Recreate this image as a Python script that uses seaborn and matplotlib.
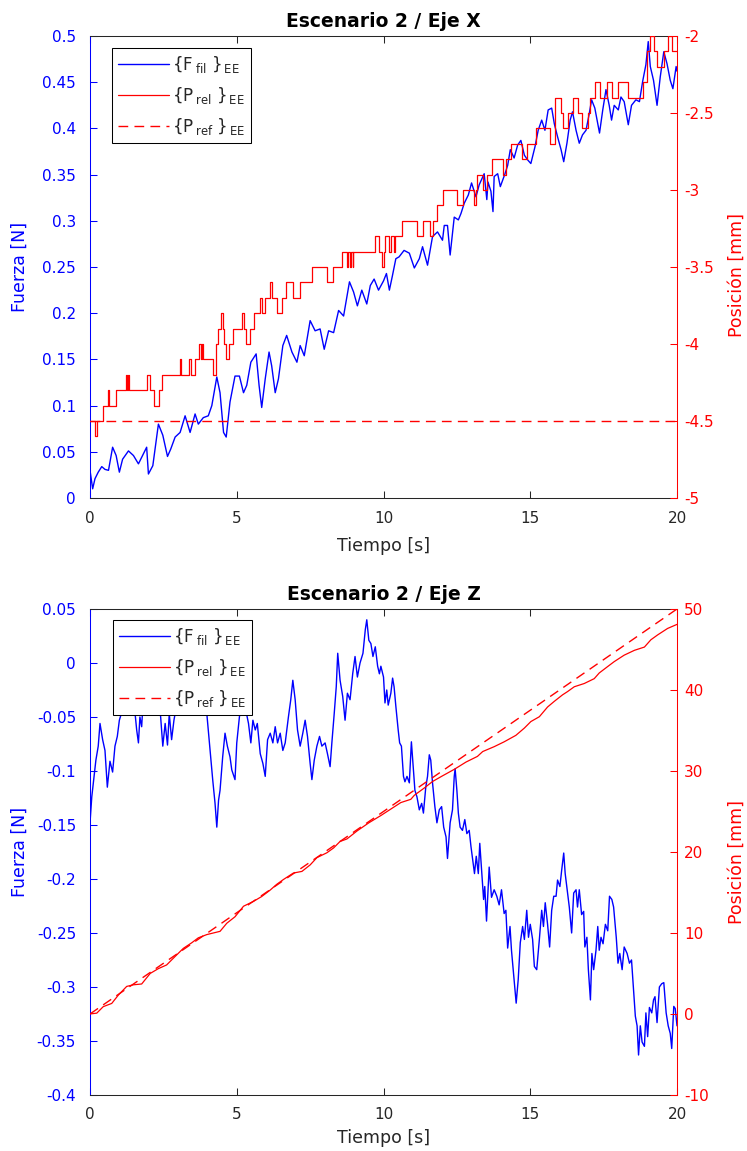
import numpy as np
import pandas as pd
import matplotlib
matplotlib.use("Agg")
import matplotlib.pyplot as plt
import seaborn as sns

# ---------------- Escenario 2 / Eje X ----------------
# Filtered end-effector force (N)
fx_t = [0.0, 0.09, 0.17, 0.28, 0.40, 0.51, 0.63, 0.77, 0.89, 1.00, 1.11, 1.31, 1.48, 1.65, 1.82,
        1.93, 1.99, 2.14, 2.33, 2.48, 2.64, 2.75, 2.90, 3.07, 3.24, 3.41, 3.58, 3.69, 3.86, 4.03,
        4.15, 4.32, 4.43, 4.55, 4.64, 4.77, 4.94, 5.09, 5.23, 5.34, 5.48, 5.66, 5.76, 5.85, 5.97,
        6.10, 6.19, 6.31, 6.42, 6.57, 6.70, 6.88, 7.05, 7.16, 7.30, 7.50, 7.67, 7.84, 7.98, 8.13,
        8.30, 8.47, 8.64, 8.75, 8.84, 8.98, 9.11, 9.26, 9.43, 9.55, 9.68, 9.83, 10.0, 10.1, 10.2,
        10.3, 10.42, 10.53, 10.70, 10.88, 11.05, 11.22, 11.33, 11.50, 11.67, 11.84, 12.01, 12.07,
        12.18, 12.27, 12.41, 12.55, 12.64, 12.75, 12.89, 13.00, 13.15, 13.26, 13.43, 13.52, 13.56,
        13.66, 13.73, 13.77, 13.89, 13.98, 14.14, 14.23, 14.32, 14.45, 14.57, 14.68, 14.80, 14.91,
        15.02, 15.16, 15.27, 15.39, 15.50, 15.61, 15.73, 15.82, 15.93, 16.05, 16.14, 16.25, 16.36,
        16.44, 16.56, 16.67, 16.78, 16.90, 17.01, 17.09, 17.20, 17.30, 17.36, 17.47, 17.58, 17.69,
        17.77, 17.86, 18.00, 18.09, 18.20, 18.34, 18.45, 18.60, 18.72, 18.83, 18.94, 19.02, 19.09,
        19.20, 19.32, 19.43, 19.55, 19.66, 19.77, 19.86, 19.97, 20.0]
fx_v = [0.030, 0.010, 0.021, 0.028, 0.034, 0.031, 0.030, 0.055, 0.046, 0.028, 0.042, 0.051, 0.046,
        0.037, 0.048, 0.055, 0.026, 0.035, 0.080, 0.068, 0.045, 0.053, 0.066, 0.071, 0.089, 0.071,
        0.091, 0.080, 0.087, 0.089, 0.100, 0.131, 0.114, 0.071, 0.066, 0.104, 0.132, 0.132, 0.114,
        0.122, 0.147, 0.156, 0.122, 0.098, 0.129, 0.158, 0.143, 0.114, 0.129, 0.165, 0.176, 0.158,
        0.147, 0.165, 0.154, 0.192, 0.181, 0.183, 0.161, 0.181, 0.179, 0.203, 0.197, 0.217, 0.234,
        0.223, 0.208, 0.225, 0.210, 0.230, 0.237, 0.225, 0.235, 0.243, 0.225, 0.240, 0.259, 0.261,
        0.268, 0.265, 0.249, 0.259, 0.272, 0.252, 0.283, 0.288, 0.279, 0.295, 0.295, 0.263, 0.304,
        0.301, 0.308, 0.319, 0.328, 0.341, 0.326, 0.339, 0.351, 0.323, 0.342, 0.332, 0.310, 0.348,
        0.351, 0.337, 0.351, 0.360, 0.377, 0.368, 0.382, 0.387, 0.371, 0.366, 0.362, 0.380, 0.398,
        0.409, 0.398, 0.420, 0.422, 0.405, 0.391, 0.377, 0.364, 0.384, 0.409, 0.418, 0.398, 0.384,
        0.393, 0.398, 0.416, 0.431, 0.422, 0.405, 0.395, 0.420, 0.442, 0.425, 0.409, 0.425, 0.420,
        0.434, 0.429, 0.404, 0.425, 0.431, 0.429, 0.451, 0.469, 0.494, 0.467, 0.452, 0.425, 0.456,
        0.483, 0.470, 0.452, 0.443, 0.467, 0.462]

# Measured position (mm), quantised staircase: step start times and levels
px_t = [0.0, 0.17, 0.25, 0.43, 0.60, 0.66, 0.875, 1.22, 1.26, 1.29, 1.34, 1.93, 2.05, 2.18, 2.36,
        2.45, 3.05, 3.11, 3.36, 3.43, 3.59, 3.73, 3.77, 3.80, 3.86, 4.18, 4.28, 4.35, 4.45, 4.52,
        4.57, 4.62, 4.72, 4.86, 5.19, 5.23, 5.30, 5.45, 5.60, 5.80, 5.85, 5.97, 6.14, 6.20, 6.36,
        6.53, 6.68, 6.93, 7.16, 7.56, 8.06, 8.27, 8.58, 8.76, 8.80, 8.85, 8.90, 8.95, 8.97, 9.71,
        9.86, 9.94, 10.0, 10.05, 10.2, 10.25, 10.35, 10.4, 10.62, 11.13, 11.33, 11.58, 11.67,
        11.81, 12.02, 12.49, 12.72, 13.08, 13.15, 13.17, 13.38, 13.51, 13.71, 14.07, 14.16, 14.36,
        14.71, 14.88, 15.2, 15.67, 15.84, 16.05, 16.12, 16.3, 16.45, 16.64, 16.75, 16.98, 17.04,
        17.19, 17.36, 17.63, 17.77, 18.0, 18.34, 18.85, 18.97, 19.08, 19.2, 19.31, 19.54, 19.71,
        19.83, 20.0]
px_v = [-4.5, -4.6, -4.5, -4.4, -4.3, -4.4, -4.3, -4.2, -4.3, -4.2, -4.3, -4.2, -4.3, -4.4, -4.3,
        -4.2, -4.1, -4.2, -4.1, -4.2, -4.1, -4.0, -4.1, -4.0, -4.1, -4.2, -4.0, -3.9, -3.8, -3.9,
        -4.0, -4.1, -4.0, -3.9, -3.8, -3.9, -4.0, -3.9, -3.8, -3.7, -3.8, -3.7, -3.6, -3.7, -3.8,
        -3.7, -3.6, -3.7, -3.6, -3.5, -3.6, -3.5, -3.4, -3.5, -3.4, -3.5, -3.4, -3.5, -3.4, -3.3,
        -3.4, -3.5, -3.4, -3.3, -3.4, -3.3, -3.4, -3.3, -3.2, -3.3, -3.2, -3.3, -3.2,
        -3.1, -3.0, -3.1, -3.0, -3.1, -3.0, -2.9, -3.0, -2.9, -2.8, -2.9, -2.8, -2.7,
        -2.8, -2.7, -2.6, -2.7, -2.4, -2.5, -2.6, -2.5, -2.4, -2.5, -2.6, -2.5, -2.4,
        -2.3, -2.4, -2.3, -2.4, -2.3, -2.4, -2.3, -2.1, -2.0, -2.1, -2.2, -2.1, -2.0,
        -2.1, -2.1]

# Reference position (mm)
rx_t = [0.0, 20.0]
rx_v = [-4.5, -4.5]

# ---------------- Escenario 2 / Eje Z ----------------
fz_t = [0.0, 0.06, 0.14, 0.20, 0.28, 0.34, 0.43, 0.51, 0.59, 0.68, 0.77, 0.85, 0.93, 1.00, 1.14,
        1.25, 1.42, 1.50, 1.59, 1.65, 1.70, 1.76, 1.82, 2.05, 2.39, 2.48, 2.56, 2.64, 2.70, 2.78,
        2.86, 2.95, 3.07, 3.24, 3.41, 3.75, 3.98, 4.09, 4.18, 4.26, 4.32, 4.38, 4.43, 4.52, 4.60,
        4.68, 4.77, 4.83, 4.94, 5.00, 5.09, 5.17, 5.28, 5.40, 5.48, 5.55, 5.63, 5.70, 5.80, 5.89,
        5.97, 6.05, 6.14, 6.23, 6.31, 6.39, 6.48, 6.57, 6.65, 6.76, 6.84, 6.91, 6.99, 7.07, 7.16,
        7.25, 7.33, 7.41, 7.50, 7.56, 7.64, 7.73, 7.82, 7.90, 8.01, 8.09, 8.18, 8.24, 8.32, 8.39,
        8.44, 8.52, 8.61, 8.69, 8.77, 8.86, 8.95, 9.03, 9.11, 9.20, 9.30, 9.38, 9.43, 9.50, 9.57,
        9.64, 9.72, 9.80, 9.86, 9.91, 10.00, 10.05, 10.11, 10.16, 10.25, 10.31, 10.36, 10.42,
        10.50, 10.55, 10.61, 10.68, 10.73, 10.80, 10.88, 10.95, 11.02, 11.07, 11.14, 11.22, 11.30,
        11.36, 11.44, 11.50, 11.56, 11.61, 11.67, 11.75, 11.82, 11.90, 11.98, 12.05, 12.13, 12.18,
        12.27, 12.35, 12.41, 12.44, 12.50, 12.55, 12.61, 12.69, 12.77, 12.84, 12.92, 12.98, 13.10,
        13.16, 13.23, 13.28, 13.35, 13.41, 13.45, 13.51, 13.60, 13.68, 13.77, 13.86, 13.94, 14.02,
        14.11, 14.17, 14.23, 14.31, 14.36, 14.43, 14.52, 14.59, 14.66, 14.74, 14.80, 14.88, 14.94,
        15.00, 15.08, 15.14, 15.22, 15.31, 15.39, 15.45, 15.51, 15.59, 15.66, 15.73, 15.80, 15.88,
        15.93, 16.01, 16.07, 16.14, 16.19, 16.27, 16.33, 16.41, 16.48, 16.56, 16.61, 16.67, 16.75,
        16.82, 16.86, 16.93, 16.98, 17.05, 17.10, 17.16, 17.24, 17.30, 17.35, 17.41, 17.48, 17.56,
        17.64, 17.70, 17.78, 17.84, 17.93, 17.99, 18.05, 18.13, 18.20, 18.30, 18.38, 18.45, 18.52,
        18.58, 18.64, 18.69, 18.75, 18.81, 18.89, 18.94, 19.00, 19.06, 19.14, 19.20, 19.25, 19.32,
        19.40, 19.48, 19.55, 19.63, 19.70, 19.77, 19.82, 19.89, 19.94, 20.00]
fz_v = [-0.148, -0.124, -0.105, -0.090, -0.077, -0.056, -0.071, -0.081, -0.115, -0.091, -0.101,
        -0.077, -0.068, -0.053, -0.040, -0.030, -0.047, -0.037, -0.062, -0.074, -0.050, -0.059,
        -0.030, -0.020, -0.044, -0.077, -0.056, -0.076, -0.047, -0.071, -0.053, -0.039, -0.025,
        -0.045, -0.030, -0.020, -0.047, -0.081, -0.108, -0.130, -0.152, -0.127, -0.118, -0.087,
        -0.065, -0.077, -0.087, -0.099, -0.108, -0.074, -0.050, -0.035, -0.040, -0.056, -0.074,
        -0.053, -0.062, -0.056, -0.084, -0.093, -0.105, -0.071, -0.065, -0.074, -0.059, -0.074,
        -0.065, -0.081, -0.074, -0.050, -0.034, -0.016, -0.034, -0.062, -0.077, -0.065, -0.053,
        -0.068, -0.093, -0.108, -0.090, -0.077, -0.068, -0.077, -0.074, -0.084, -0.096, -0.074,
        -0.047, -0.022, 0.009, -0.016, -0.031, -0.053, -0.028, -0.034, -0.010, 0.006, -0.013,
        0.000, 0.009, 0.031, 0.040, 0.021, 0.018, 0.006, 0.015, -0.003, -0.010, -0.003, -0.013,
        -0.037, -0.025, -0.039, -0.028, -0.014, -0.022, -0.040, -0.062, -0.074, -0.077, -0.105,
        -0.110, -0.105, -0.111, -0.073, -0.099, -0.118, -0.124, -0.136, -0.130, -0.139, -0.115,
        -0.105, -0.085, -0.090, -0.111, -0.133, -0.148, -0.136, -0.133, -0.152, -0.161, -0.181,
        -0.148, -0.136, -0.105, -0.098, -0.118, -0.139, -0.152, -0.155, -0.145, -0.158, -0.155,
        -0.170, -0.195, -0.179, -0.195, -0.167, -0.195, -0.219, -0.207, -0.239, -0.189, -0.217,
        -0.210, -0.216, -0.224, -0.210, -0.232, -0.229, -0.264, -0.244, -0.266, -0.287, -0.315,
        -0.293, -0.259, -0.244, -0.256, -0.229, -0.254, -0.242, -0.256, -0.281, -0.284, -0.256,
        -0.229, -0.244, -0.222, -0.242, -0.263, -0.229, -0.216, -0.216, -0.201, -0.207, -0.192,
        -0.176, -0.195, -0.213, -0.226, -0.250, -0.213, -0.210, -0.226, -0.210, -0.233, -0.230,
        -0.263, -0.254, -0.284, -0.312, -0.269, -0.284, -0.266, -0.244, -0.266, -0.254, -0.260,
        -0.242, -0.248, -0.216, -0.219, -0.226, -0.254, -0.278, -0.269, -0.284, -0.263, -0.269,
        -0.278, -0.275, -0.303, -0.327, -0.336, -0.363, -0.336, -0.351, -0.355, -0.324, -0.346,
        -0.319, -0.324, -0.312, -0.309, -0.333, -0.300, -0.297, -0.296, -0.324, -0.336, -0.343,
        -0.357, -0.318, -0.320, -0.336]

pz_t = [0.0, 0.23, 0.45, 0.74, 0.97, 1.25, 1.48, 1.76, 2.05, 2.33, 2.61, 2.90, 3.18, 3.47, 3.69,
        3.98, 4.43, 4.66, 4.94, 5.23, 5.57, 5.85, 6.14, 6.36, 6.59, 6.93, 7.22, 7.50, 7.73, 8.07,
        8.30, 8.52, 8.75, 9.10, 9.50, 9.91, 10.25, 10.59, 10.93, 11.05, 11.39, 11.67, 12.01, 12.41,
        12.81, 13.20, 13.38, 13.77, 14.11, 14.51, 14.80, 15.02, 15.31, 15.59, 15.82, 16.10, 16.27,
        16.50, 16.84, 17.18, 17.35, 17.64, 17.86, 18.20, 18.55, 18.89, 19.11, 19.34, 19.68, 20.0]
pz_v = [0.0, 0.1, 0.9, 1.3, 2.35, 3.4, 3.6, 3.7, 5.0, 5.6, 6.05, 7.1, 8.1, 8.8, 9.4, 9.8, 10.2,
        11.2, 12.0, 13.3, 13.9, 14.5, 15.3, 16.0, 16.6, 17.4, 17.6, 18.4, 19.3, 19.9, 20.5, 21.3,
        21.6, 22.6, 23.6, 24.5, 25.3, 26.1, 26.5, 27.0, 27.9, 28.7, 29.4, 30.2, 31.1, 31.8, 32.4,
        33.0, 33.6, 34.4, 35.3, 36.1, 36.7, 37.9, 38.6, 39.4, 39.8, 40.4, 40.8, 41.4, 42.1, 42.9,
        43.5, 44.3, 44.9, 45.3, 46.2, 46.8, 47.6, 48.1]

rz_t = [0.0, 20.0]
rz_v = [0.0, 50.0]

# Axis ticks
time_ticks = [0, 5, 10, 15, 20]
fx_ticks = [0, 0.05, 0.1, 0.15, 0.2, 0.25, 0.3, 0.35, 0.4, 0.45, 0.5]
px_ticks = [-5, -4.5, -4, -3.5, -3, -2.5, -2]
fz_ticks = [-0.4, -0.35, -0.3, -0.25, -0.2, -0.15, -0.1, -0.05, 0, 0.05]
pz_ticks = [-10, 0, 10, 20, 30, 40, 50]

labels = [r"$\mathregular{\{F_{\;fil}\;\}_{\,EE}}$",
          r"$\mathregular{\{P_{\;rel}\;\}_{\,EE}}$",
          r"$\mathregular{\{P_{\;ref}\;\}_{\,EE}}$"]

sns.set_style("white")
plt.rcParams["font.family"] = ["DejaVu Sans"]
plt.rcParams["axes.unicode_minus"] = False
plt.rcParams["mathtext.fontset"] = "dejavusans"

DARK = "#262626"
BLUE = (0, 0, 1)
RED = (1, 0, 0)
FS = 11        # tick labels
FS_LAB = 12.5  # axis labels
FS_TIT = 13.5  # titles
FS_LEG = 12    # legend

fig = plt.figure(figsize=(7.47, 11.51), dpi=100)
ax_top = fig.add_axes([0.1205, 0.5673, 0.7858, 0.4014])
ax_bot = fig.add_axes([0.1205, 0.0487, 0.7858, 0.4222])


def panel(ax, title, f_t, f_v, p_t, p_v, r_t, r_v, steps, f_lim, f_ticks, p_lim, p_ticks,
          leg_anchor, xlab_y, ylab2_y):
    sns.lineplot(x=f_t, y=f_v, ax=ax, color=BLUE, lw=1.0, estimator=None, sort=False,
                 label=labels[0])
    axr = ax.twinx()
    kw = dict(drawstyle="steps-post") if steps else {}
    sns.lineplot(x=p_t, y=p_v, ax=axr, color=RED, lw=0.9, estimator=None, sort=False,
                 label=labels[1], **kw)
    sns.lineplot(x=r_t, y=r_v, ax=axr, color=RED, lw=1.0, estimator=None, sort=False,
                 label=labels[2])
    axr.lines[-1].set_dashes((7, 4.5))
    for a in (ax, axr):
        if a.get_legend() is not None:
            a.get_legend().remove()

    ax.set_xlim(0, 20)
    ax.set_xticks(time_ticks)
    ax.set_ylim(*f_lim)
    ax.set_yticks(f_ticks)
    ax.set_yticklabels([f"{v:g}" for v in f_ticks])
    axr.set_ylim(*p_lim)
    axr.set_yticks(p_ticks)
    axr.set_yticklabels([f"{v:g}" for v in p_ticks])

    ax.tick_params(axis="x", direction="in", top=True, bottom=True, length=5, width=0.75,
                   color=DARK, labelcolor=DARK, labelsize=FS, pad=9)
    ax.tick_params(axis="y", direction="in", left=True, right=False, length=5, width=0.75,
                   color=BLUE, labelcolor=BLUE, labelsize=FS, pad=10)
    axr.tick_params(axis="y", direction="in", right=True, left=False, length=5, width=0.75,
                    color=RED, labelcolor=RED, labelsize=FS, pad=5)

    for s in ("top", "bottom"):
        ax.spines[s].set_color(DARK)
        ax.spines[s].set_linewidth(0.75)
    ax.spines["left"].set_color(BLUE)
    ax.spines["left"].set_linewidth(0.75)
    ax.spines["right"].set_visible(False)
    for s in ("top", "bottom", "left"):
        axr.spines[s].set_visible(False)
    axr.spines["right"].set_color(RED)
    axr.spines["right"].set_linewidth(0.75)

    ax.set_title(title, fontsize=FS_TIT, fontweight="bold", pad=6.5, color="black")
    ax.set_xlabel("Tiempo [s]", fontsize=FS_LAB, color=DARK)
    ax.xaxis.set_label_coords(0.5, xlab_y)
    ax.set_ylabel("Fuerza [N]", fontsize=FS_LAB, color=BLUE)
    ax.yaxis.set_label_coords(-0.105, 0.5)
    axr.set_ylabel("Posición [mm]", fontsize=FS_LAB, color=RED, rotation=90)
    axr.yaxis.set_label_coords(1.087, ylab2_y)

    handles = [ax.lines[0], axr.lines[0], axr.lines[1]]
    leg = axr.legend(handles, labels, loc="upper left", bbox_to_anchor=leg_anchor,
                     borderaxespad=0, fontsize=FS_LEG, frameon=True, fancybox=False,
                     framealpha=1, edgecolor="black", handlelength=3.1, handletextpad=0.15,
                     borderpad=0.35, labelspacing=0.6)
    leg.get_frame().set_linewidth(0.75)
    return ax, axr


panel(ax_top, "Escenario 2 / Eje X", fx_t, fx_v, px_t, px_v, rx_t, rx_v, True,
      (0, 0.5), fx_ticks, (-5, -2), px_ticks, (0.037, 0.974), -0.085, 0.483)
panel(ax_bot, "Escenario 2 / Eje Z", fz_t, fz_v, pz_t, pz_v, rz_t, rz_v, False,
      (-0.4, 0.05), fz_ticks, (-10, 50), pz_ticks, (0.039, 0.977), -0.070, 0.479)

fig.savefig("out.png", dpi=100, facecolor="white")
